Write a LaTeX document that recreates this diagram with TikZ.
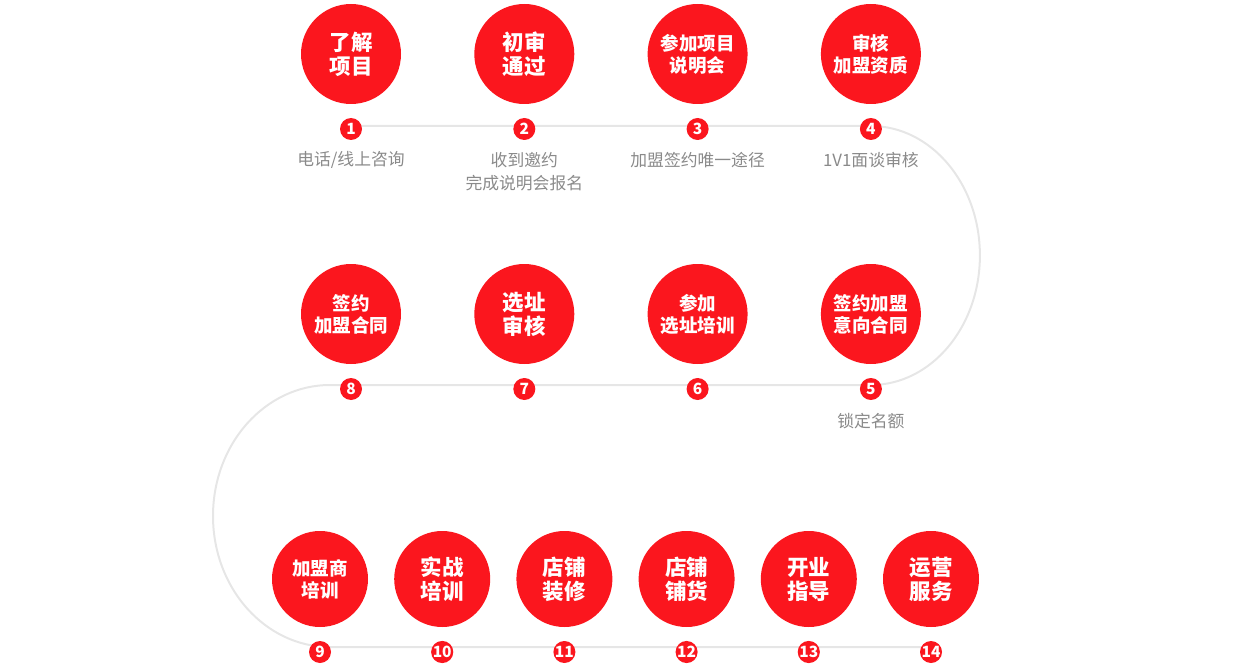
\documentclass[tikz,border=0pt]{standalone}
\usepackage{fontspec}
\setmainfont{Noto Sans CJK SC}
\usetikzlibrary{positioning,backgrounds}
\definecolor{stagered}{HTML}{FB161E}
\definecolor{trackgray}{HTML}{E6E6E6}
\definecolor{notegray}{HTML}{8A8A8A}

\begin{document}
\begin{tikzpicture}[x=1pt,y=-1pt,node distance=173.3pt]

  \tikzstyle{every node}=[inner sep=0pt]
  \tikzstyle{stage}=[circle,fill=stagered,text=white,minimum size=100pt,align=center,
                     font=\bfseries\fontsize{21.5}{24}\selectfont]
  \tikzstyle{small stage}=[stage,font=\bfseries\fontsize{18.5}{22}\selectfont]
  \tikzstyle{badge}=[circle,fill=stagered,text=white,minimum size=22pt,
                     font=\bfseries\fontsize{15.5}{15.5}\selectfont]
  \tikzstyle{note}=[text=notegray,align=center,font=\fontsize{16.8}{23}\selectfont]
  \tikzstyle{track}=[draw=trackgray,line width=2pt]

  \useasboundingbox (0,0) rectangle (1256,666);

  \node[stage] (c1) at (351,54)   {了解\\项目};
  \node[stage] (c2) [right of=c1] {初审\\通过};
  \node[small stage] (c3) [right of=c2] {参加项目\\说明会};
  \node[small stage] (c4) [right of=c3] {审核\\加盟资质};

  \node[small stage] (c5) [below of=c4,node distance=260pt] {签约加盟\\意向合同};
  \node[small stage] (c6) [left of=c5] {参加\\选址培训};
  \node[stage] (c7) [left of=c6] {选址\\审核};
  \node[small stage] (c8) [left of=c7] {签约\\加盟合同};

  \begin{scope}[node distance=122.2pt]
    \node[small stage,minimum size=96pt] (c9) at (320,579) {加盟商\\培训};
    \node[stage,minimum size=96pt] (c10) [right of=c9]  {实战\\培训};
    \node[stage,minimum size=96pt] (c11) [right of=c10] {店铺\\装修};
    \node[stage,minimum size=96pt] (c12) [right of=c11] {店铺\\铺货};
    \node[stage,minimum size=96pt] (c13) [right of=c12] {开业\\指导};
    \node[stage,minimum size=96pt] (c14) [right of=c13] {运营\\服务};
  \end{scope}

  \begin{scope}[node distance=75pt]
    \node[badge] (n1) [below of=c1] {1};
    \node[badge] (n2) [below of=c2] {2};
    \node[badge] (n3) [below of=c3] {3};
    \node[badge] (n4) [below of=c4] {4};
    \node[badge] (n5) [below of=c5] {5};
    \node[badge] (n6) [below of=c6] {6};
    \node[badge] (n7) [below of=c7] {7};
    \node[badge] (n8) [below of=c8] {8};
  \end{scope}
  \begin{scope}[node distance=73pt]
    \node[badge] (n9)  [below of=c9]  {9};
    \node[badge] (n10) [below of=c10] {10};
    \node[badge] (n11) [below of=c11] {11};
    \node[badge] (n12) [below of=c12] {12};
    \node[badge] (n13) [below of=c13] {13};
    \node[badge] (n14) [below of=c14] {14};
  \end{scope}

  \node[note] (l1) [below of=n1,node distance=31pt]   {电话/线上咨询};
  \node[note] (l2) [below of=n2,node distance=42.5pt] {收到邀约\\完成说明会报名};
  \node[note] (l3) [below of=n3,node distance=31pt]   {加盟签约唯一途径};
  \node[note] (l4) [below of=n4,node distance=31pt]   {1V1面谈审核};
  \node[note] (l5) [below of=n5,node distance=32pt]   {锁定名额};

  \begin{scope}[on background layer]
    \draw[track] ([yshift=3pt]n1.center) -- ([yshift=3pt]n4.center)
      arc[start angle=90,end angle=-90,x radius=109pt,y radius=129.5pt]
      -- ([yshift=4pt]n8.center) -- ++(-21,0)
      arc[start angle=90,end angle=270,x radius=117pt,y radius=131pt]
      -- ([yshift=5pt]n14.center);
  \end{scope}
\end{tikzpicture}
\end{document}
